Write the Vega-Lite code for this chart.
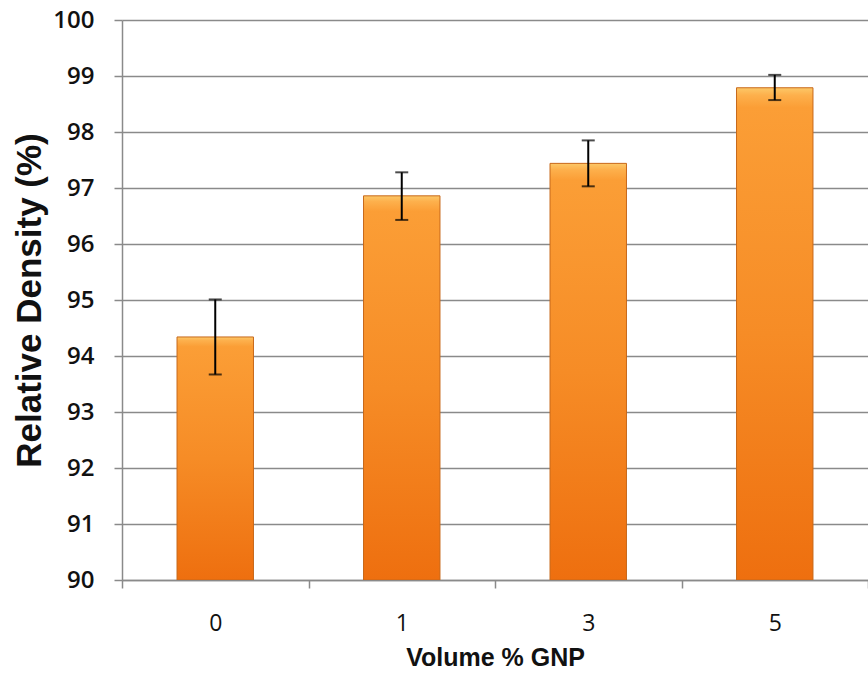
{
  "$schema": "https://vega.github.io/schema/vega-lite/v6.json",
  "autosize": {"type": "none"},
  "padding": {"left": 122, "top": 20, "right": 0, "bottom": 99},
  "width": 746,
  "height": 560,
  "background": "white",
  "config": {
    "view": {"stroke": null}
  },
  "data": {
    "values": [
      {"gnp": "0", "density": 94.34, "lo": 93.67, "hi": 95.01},
      {"gnp": "1", "density": 96.86, "lo": 96.43, "hi": 97.28},
      {"gnp": "3", "density": 97.44, "lo": 97.03, "hi": 97.85},
      {"gnp": "5", "density": 98.79, "lo": 98.57, "hi": 99.02}
    ]
  },
  "encoding": {
    "x": {
      "field": "gnp",
      "type": "nominal",
      "sort": null,
      "scale": {"paddingInner": 0, "paddingOuter": 0},
      "axis": {
        "title": "Volume % GNP",
        "labelAngle": 0,
        "tickBand": "extent",
        "tickSize": 8,
        "tickColor": "#8a8a8a",
        "tickWidth": 1.5,
        "domainColor": "#8a8a8a",
        "domainWidth": 1.5,
        "labelFont": "Open Sans",
        "labelFontWeight": 500,
        "labelFontSize": 23,
        "labelColor": "#111111",
        "labelPadding": 24,
        "titleFont": "Liberation Sans",
        "titleFontSize": 25,
        "titleFontWeight": "bold",
        "titleColor": "#111111",
        "titlePadding": 10
      }
    }
  },
  "layer": [
    {
      "mark": {
        "type": "bar",
        "clip": true,
        "width": {"band": 0.41},
        "color": {
          "x1": 0, "y1": 0, "x2": 0, "y2": 1,
          "gradient": "linear",
          "stops": [
            {"offset": 0, "color": "#fcc868"},
            {"offset": 0.015, "color": "#fdb04c"},
            {"offset": 0.04, "color": "#fb9e36"},
            {"offset": 0.5, "color": "#f68c26"},
            {"offset": 1, "color": "#ee6f0f"}
          ]
        },
        "stroke": "#c8681a",
        "strokeWidth": 1
      },
      "encoding": {
        "y": {
          "field": "density",
          "type": "quantitative",
          "scale": {"domain": [90, 100], "zero": false, "nice": false},
          "axis": {
            "title": "Relative Density (%)",
            "values": [90, 91, 92, 93, 94, 95, 96, 97, 98, 99, 100],
            "grid": true,
            "gridColor": "#8a8a8a",
            "gridWidth": 1.5,
            "domainColor": "#8a8a8a",
            "domainWidth": 1.5,
            "tickColor": "#8a8a8a",
            "tickWidth": 1.5,
            "tickSize": 8,
            "labelFont": "Open Sans",
            "labelFontWeight": 600,
            "labelFontSize": 24,
            "labelColor": "#111111",
            "labelPadding": 20,
            "titleFont": "Liberation Sans",
            "titleFontSize": 35,
            "titleFontWeight": "bold",
            "titleColor": "#111111",
            "titlePadding": 5
          }
        },
        "y2": {"datum": 90}
      }
    },
    {
      "mark": {"type": "rule", "color": "#000000", "strokeWidth": 2},
      "encoding": {
        "y": {"field": "lo", "type": "quantitative"},
        "y2": {"field": "hi"}
      }
    },
    {
      "mark": {"type": "tick", "color": "#000000", "thickness": 2, "size": 13},
      "encoding": {
        "y": {"field": "hi", "type": "quantitative"}
      }
    },
    {
      "mark": {"type": "tick", "color": "#000000", "thickness": 2, "size": 13},
      "encoding": {
        "y": {"field": "lo", "type": "quantitative"}
      }
    }
  ]
}
